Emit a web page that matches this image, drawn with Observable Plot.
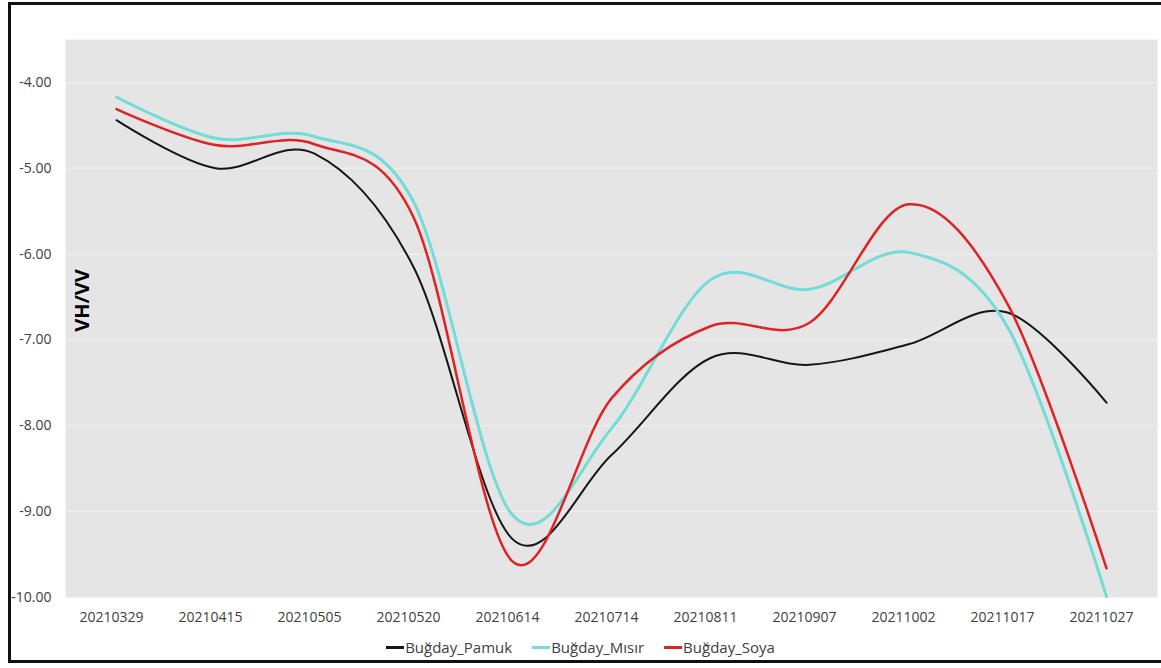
<!DOCTYPE html>
<html>
<head>
<meta charset="utf-8">
<script src="https://cdn.jsdelivr.net/npm/d3@7"></script>
<script src="https://cdn.jsdelivr.net/npm/@observablehq/plot@0.6"></script>
<style>
  html, body { margin: 0; padding: 0; background: #fff; }
  #page { position: relative; width: 1161px; height: 668px; overflow: hidden; font-family: "Open Sans", sans-serif; }
  #border { position: absolute; left: 8px; top: 2px; width: 1170px; height: 661px; border: 3px solid #111; box-sizing: border-box; }
  #chart { position: absolute; left: 0; top: 0; }
  #legend { position: absolute; top: 637px; left: 0; width: 1161px; display: flex; justify-content: center; gap: 20px; font-size: 15px; color: #404040; }
  #legend .item { display: flex; align-items: center; }
  #legend .sw { display: inline-block; width: 18px; height: 3px; margin-right: 1px; }
</style>
</head>
<body>
<div id="page">
  <div id="border"></div>
  <div id="chart"></div>
  <div id="legend"></div>
</div>
<script>
// Acquisition dates (category axis)
const dates = ["20210329", "20210415", "20210505", "20210520", "20210614", "20210714",
               "20210811", "20210907", "20211002", "20211017", "20211027"];

// Mean VH/VV backscatter ratio per crop rotation
const pamuk = [-4.44, -5.00, -4.83, -6.15, -9.32, -8.34, -7.21, -7.29, -7.05, -6.68, -7.73];
const misir = [-4.17, -4.65, -4.63, -5.39, -9.04, -8.03, -6.30, -6.41, -5.98, -6.85, -9.99];
const soya  = [-4.31, -4.73, -4.72, -5.57, -9.58, -7.68, -6.84, -6.80, -5.42, -6.58, -9.66];

const yTicks = [-4, -5, -6, -7, -8, -9, -10];

const seriesNames = ["Buğday_Pamuk", "Buğday_Mısır", "Buğday_Soya"];
const seriesValues = [pamuk, misir, soya];
const seriesColors = ["#161616", "#72ddd6", "#dd2326"];
const seriesWidths = [2, 3, 2.5];

const rows = seriesNames.flatMap((name, s) =>
  dates.map((d, i) => ({series: name, date: d, value: seriesValues[s][i]})));

const marks = [
  Plot.frame({fill: "#e6e5e6", stroke: null}),
  Plot.gridY(yTicks, {stroke: "#f2f2f2", strokeOpacity: 1, strokeWidth: 1}),
  Plot.axisY(yTicks, {tickSize: 0, tickPadding: 14, tickFormat: d => d.toFixed(2),
    fontSize: 14, fill: "#404040", label: null}),
  Plot.axisX({tickSize: 0, tickPadding: 15, dx: -5, fontSize: 14, fill: "#404040", label: null}),
  Plot.text(["VH/VV"], {frameAnchor: "left", dx: 17, dy: -18, rotate: -90,
    fontSize: 20, fontWeight: "bold", fill: "#000", textAnchor: "middle"})
];

seriesNames.forEach((name, s) => {
  marks.push(Plot.line(rows.filter(r => r.series === name), {
    x: "date", y: "value", stroke: seriesColors[s], strokeWidth: seriesWidths[s],
    curve: "cardinal"
  }));
});

const chart = Plot.plot({
  width: 1161,
  height: 636,
  marginLeft: 65,
  marginRight: 4,
  marginTop: 39,
  marginBottom: 39,
  style: {fontFamily: "'Open Sans', sans-serif", background: "transparent"},
  x: {type: "point", domain: dates, padding: 0.5},
  y: {domain: [-10, -3.5]},
  marks
});
document.getElementById("chart").appendChild(chart);

const legend = document.getElementById("legend");
seriesNames.forEach((name, s) => {
  const item = document.createElement("span");
  item.className = "item";
  const sw = document.createElement("span");
  sw.className = "sw";
  sw.style.background = seriesColors[s];
  item.appendChild(sw);
  item.appendChild(document.createTextNode(name));
  legend.appendChild(item);
});
</script>
</body>
</html>
